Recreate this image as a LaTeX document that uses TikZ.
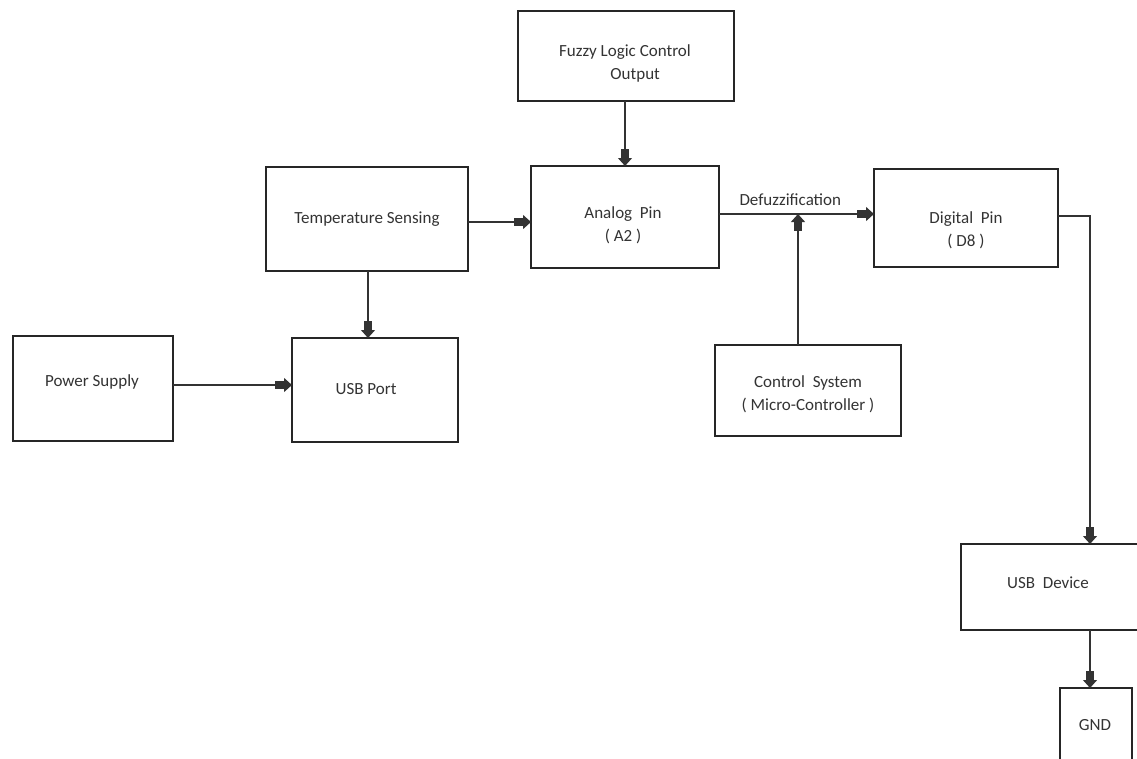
\documentclass[tikz,border=0pt]{standalone}
\usepackage{fontspec}
\setmainfont{Carlito}
\usetikzlibrary{arrows.meta}
\begin{document}
\begin{tikzpicture}[x=1pt,y=-1pt,
  blk/.style={draw=black!85,line width=1.4pt},
  txt/.style={font=\fontsize{17}{23}\selectfont,text=black!80,align=center},
  conn/.style={draw=black!80,line width=1.3pt},
  arr/.style={conn,-{Rectangle[length=9pt,width=8pt]Triangle[length=8pt,width=14pt]}}]
\useasboundingbox (0,0) rectangle (1137,758);
% boxes
\draw[blk] (518,11) rectangle (734,101);
\node[txt] (fuzzy) at (625,63) {Fuzzy Logic Control\\\hspace*{1.2em}Output};
\coordinate (fuzzyS) at (625,101);
\draw[blk] (531,166) rectangle (719,268);
\node[txt] (analog) at (623,225) {Analog\ \ Pin\\( A2 )};
\coordinate (analogN) at (625,166);
\coordinate (analogW) at (531,222);
\coordinate (analogE) at (719,214);
\draw[blk] (266,167) rectangle (468,271);
\node[txt] (temp) at (367,219) {Temperature Sensing};
\coordinate (tempE) at (468,222);
\coordinate (tempS) at (368,271);
\draw[blk] (874,169) rectangle (1058,267);
\node[txt] (digital) at (966,230) {Digital\ \ Pin\\( D8 )};
\coordinate (digitalW) at (874,214);
\coordinate (digitalE) at (1058,216);
\draw[blk] (292,338) rectangle (458,442);
\node[txt] (usbport) at (366,389) {USB Port};
\coordinate (usbportN) at (368,338);
\coordinate (usbportW) at (292,385);
\draw[blk] (13,336) rectangle (173,441);
\node[txt] (power) at (92,382) {Power Supply};
\coordinate (powerE) at (173,385);
\draw[blk] (715,345) rectangle (901,436);
\node[txt] (control) at (808,394) {Control\ \ System\\( Micro-Controller )};
\coordinate (controlN) at (798,345);
\coordinate (junction) at (798,214);
\draw[blk] (1145,544) -- (961,544) -- (961,630) -- (1145,630);
\node[txt] (usbdev) at (1048,583) {USB\ \ Device};
\coordinate (usbdevN) at (1090,544);
\coordinate (usbdevS) at (1090,630);
\draw[blk] (1060,765) -- (1060,688) -- (1132,688) -- (1132,765);
\node[txt] (gnd) at (1095,725) {GND};
\coordinate (gndN) at (1090,688);
\coordinate (bend) at (1090,216);
% connectors
\draw[arr] (fuzzyS) -- (analogN);
\draw[arr] (tempE) -- (analogW);
\draw[arr] (tempS) -- (usbportN);
\draw[arr] (powerE) -- (usbportW);
\draw[arr] (analogE) -- node[txt,above=4pt,pos=0.46] (defuzz) {Defuzzification} (digitalW);
\draw[arr] (controlN) -- (junction);
\draw[arr] (digitalE) -- (bend) -- (usbdevN);
\draw[arr] (usbdevS) -- (gndN);
\end{tikzpicture}
\end{document}
